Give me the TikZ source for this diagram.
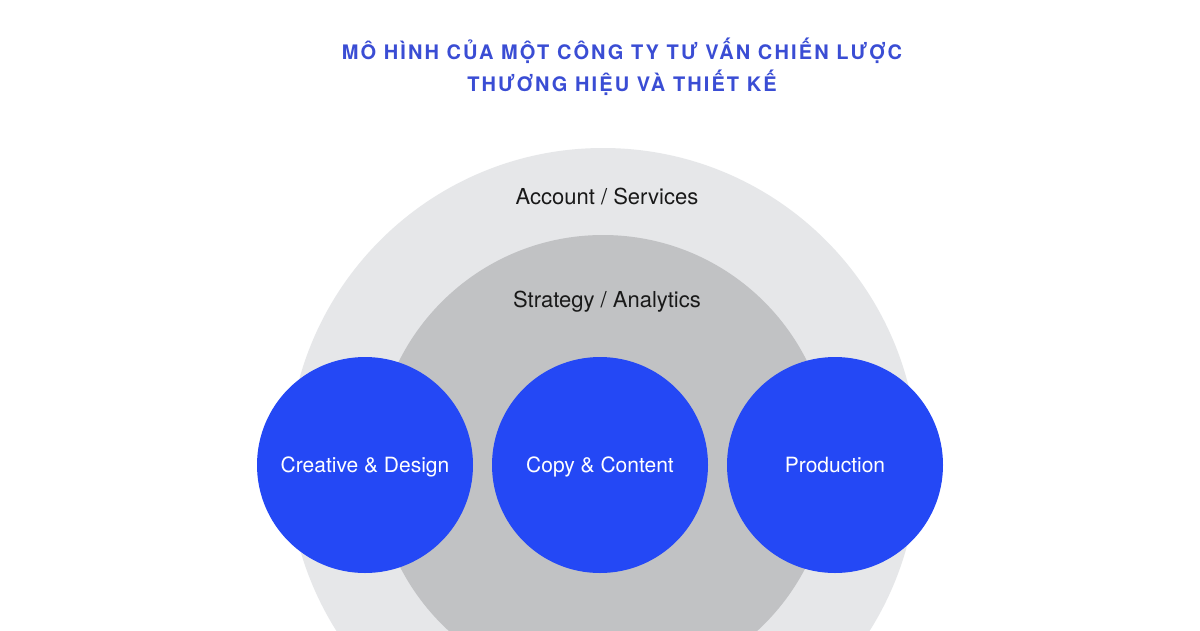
\documentclass[tikz,border=0pt]{standalone}
\usepackage{fontspec}
\setmainfont{TeX Gyre Heros}
\newfontfamily\titlefont[LetterSpace=10.5]{TeX Gyre Heros}
\usepackage{tikz}

\definecolor{ringout}{HTML}{E6E7E9}
\definecolor{ringin}{HTML}{C1C2C4}
\definecolor{unitblue}{HTML}{2448F5}
\definecolor{titleblue}{HTML}{3A4DD4}

\tikzset{
  ring/.style={circle, inner sep=0pt, draw=none},
  unit/.style={circle, fill=unitblue, minimum size=216pt, inner sep=0pt,
    text height=15pt, text depth=0pt, text=white, font=\fontsize{21}{25}\selectfont},
  ringlabel/.style={text=black!90, text height=15pt, text depth=0pt, font=\fontsize{22}{26}\selectfont},
  titleline/.style={anchor=base, text=titleblue, font=\titlefont\bfseries\fontsize{20}{24}\selectfont}
}

\begin{document}
\begin{tikzpicture}[x=1pt,y=-1pt]
\clip (0,0) rectangle (1200,630);
\fill[white] (0,0) rectangle (1200,630);
% title
\node[titleline] (title1) at (622,59) {MÔ HÌNH CỦA MỘT CÔNG TY TƯ VẤN CHIẾN LƯỢC};
\node[titleline] (title2) at (622,91) {THƯƠNG HIỆU VÀ THIẾT KẾ};
% rings
\node[ring, fill=ringout, minimum size=630pt] (account) at (603,463) {};
\node[ring, fill=ringin, minimum size=456pt] (strategy) at (603,463) {};
\node[ringlabel] (accountlbl) at (607,197) {Account / Services};
\node[ringlabel] (strategylbl) at (607,300) {Strategy / Analytics};
% units
\node[unit] (design) at (365,465) {Creative \& Design};
\node[unit] (content) at (600,465) {Copy \& Content};
\node[unit] (production) at (835,465) {Production};
\end{tikzpicture}
\end{document}
